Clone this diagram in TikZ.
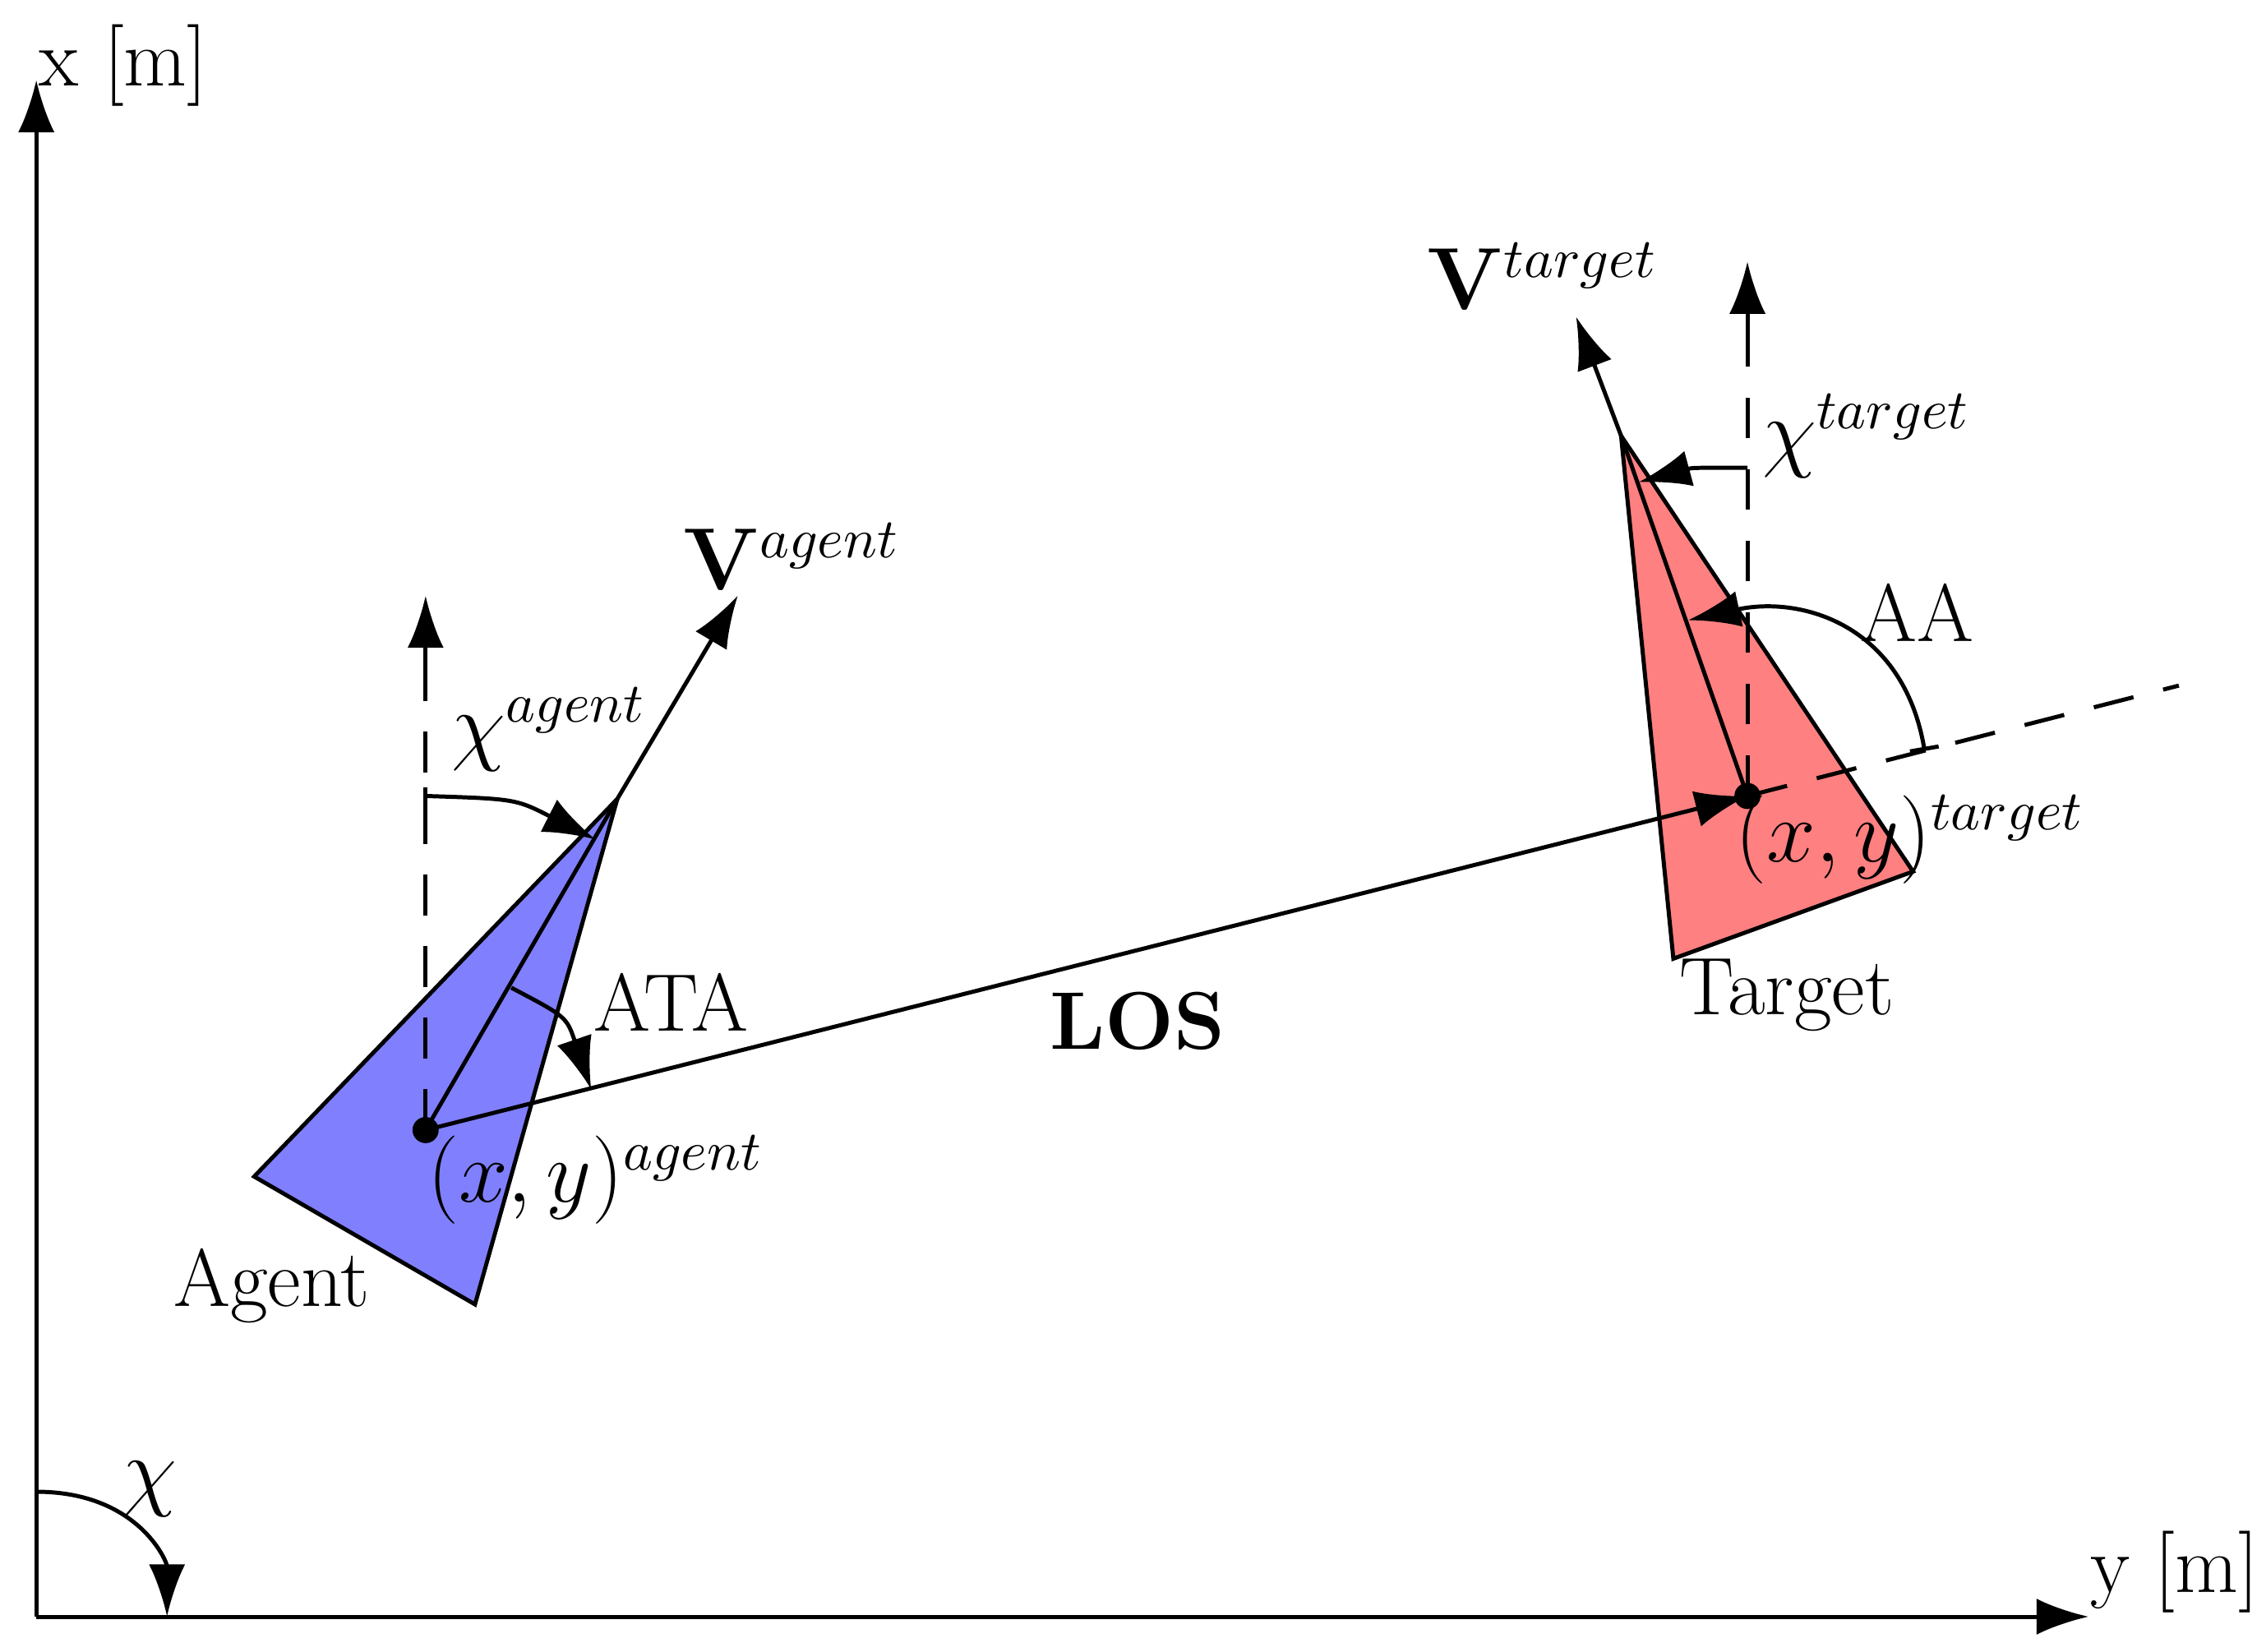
\documentclass[tikz,border=0pt]{standalone}
\usetikzlibrary{arrows.meta}
\begin{document}
\begin{tikzpicture}[x=0.01cm,y=-0.01cm,
  ln/.style={line width=0.8pt},
  arr/.style={ln,-{Latex[length=0.36cm,width=0.25cm]}},
  dsh/.style={ln,dash pattern=on 8pt off 6pt},
  lbl/.style={font=\fontsize{16}{19}\selectfont,inner sep=1pt}]
\useasboundingbox (0,0) rectangle (1560,1137);
% coordinates
\coordinate (O) at (25,1113);
\coordinate (XT) at (25,55);
\coordinate (YT) at (1438,1113);
\coordinate (A) at (293,778);
\coordinate (An) at (425,550);
\coordinate (T) at (1203,548);
\coordinate (Tn) at (1116,300);
% axes
\draw[arr] (O) -- (XT);
\draw[arr] (O) -- (YT);
\node[lbl] (xl) at (85,45) {x [m]};
\node[lbl] (yl) at (1497,1082) {y [m]};
\draw[arr] (25,1027) .. controls (95,1027) and (115,1075) .. (115,1113);
\node[lbl] (chi) at (103,1025) {$\chi$};
% agent
\draw[ln,fill=blue!50] (175,810) -- (An) -- (327,898) -- cycle;
\draw[ln] (A) -- (An);
\draw[dsh] (A) -- (293,450);
\draw[arr] (293,460) -- (293,410);
\draw[arr] (An) -- (508,410);
\node[lbl] (Va) at (545,383) {$\mathbf{V}^{agent}$};
\draw[ln] (293,542) -- (293,555);
\draw[arr] (293,548) .. controls (355,550) .. (410,578);
\node[lbl] (chia) at (378,502) {$\chi^{agent}$};
\draw[arr] (352,680) .. controls (390,700) .. (407,750);
\node[lbl] (ata) at (462,690) {ATA};
\fill (A) circle (9);
\node[lbl] (xya) at (410,812) {$(x,y)^{agent}$};
\node[lbl] (ag) at (187,885) {Agent};
% target
\draw[ln,fill=red!50] (Tn) -- (1317,600) -- (1152,660) -- cycle;
\draw[dsh] (T) -- (1500,472);
\draw[ln] (T) -- (Tn);
\draw[arr] (Tn) -- (1085,218);
\node[lbl] (Vt) at (1062,190) {$\mathbf{V}^{target}$};
\draw[dsh] (T) -- (1203,220);
\draw[arr] (1203,230) -- (1203,180);
\draw[arr] (1203,322) .. controls (1165,322) .. (1128,332);
\node[lbl] (chit) at (1285,300) {$\chi^{target}$};
\draw[ln,{Bar[width=0.2cm]}-{Latex[length=0.36cm,width=0.25cm]}] (1325,517) .. controls (1310,430) and (1240,410) .. (1162,427);
\node[lbl] (aa) at (1320,422) {AA};
% LOS
\draw[arr] (A) -- (T);
\node[lbl] (los) at (783,703) {\textbf{LOS}};
\fill (T) circle (9);
\node[lbl] (xyt) at (1315,578) {$(x,y)^{target}$};
\node[lbl] (tg) at (1230,685) {Target};
\end{tikzpicture}
\end{document}
